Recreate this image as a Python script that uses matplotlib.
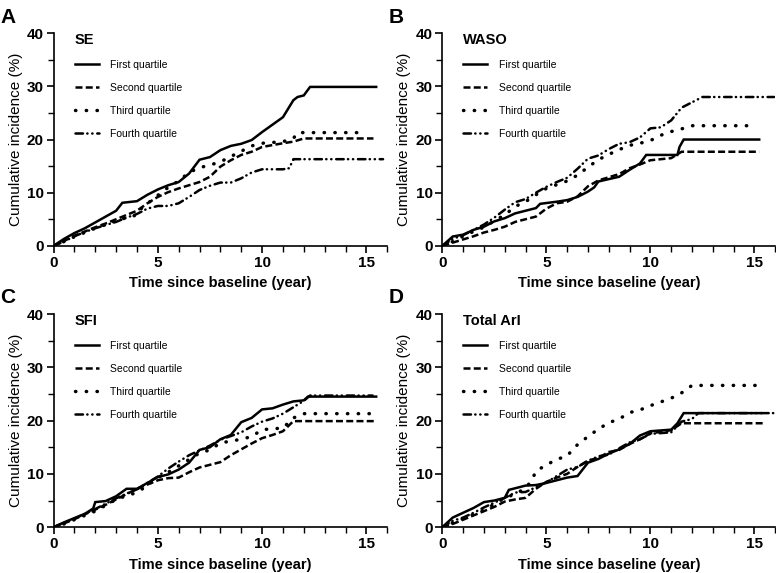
import numpy as np
import matplotlib
matplotlib.use('Agg')
import matplotlib.pyplot as plt
from matplotlib.ticker import MultipleLocator

plt.rcParams['font.family'] = ['Liberation Sans', 'DejaVu Sans']

labels = ['First quartile', 'Second quartile', 'Third quartile', 'Fourth quartile']

# (time in years, cumulative incidence %)
se_q1 = [(0, 0), (0.5, 1.3), (1, 2.4), (1.5, 3.3), (2, 4.4), (2.5, 5.5), (3, 6.6), (3.3, 8.1), (4, 8.4),
         (4.5, 9.6), (5, 10.6), (5.5, 11.4), (6, 12.0), (6.5, 13.6), (7, 16.2), (7.5, 16.7), (8, 18.0),
         (8.5, 18.8), (9, 19.2), (9.5, 19.9), (10, 21.4), (10.5, 22.8), (11, 24.2), (11.5, 27.4),
         (11.7, 28.0), (12, 28.3), (12.3, 29.9), (15.47, 29.9)]
se_q2 = [(0, 0), (0.5, 0.9), (1, 1.9), (1.5, 2.7), (2, 3.5), (2.5, 4.2), (3, 5.0), (3.5, 5.8), (4, 6.6),
         (4.5, 8.0), (5, 9.2), (5.5, 10.1), (6, 10.8), (6.5, 11.4), (7, 12.0), (7.5, 13.0), (8, 14.9),
         (8.5, 16.1), (9, 17.1), (9.5, 17.7), (10, 18.6), (11, 19.3), (11.5, 19.6), (12, 20.2),
         (15.34, 20.2)]
se_q3 = [(0, 0), (0.5, 0.8), (1, 1.7), (1.5, 2.5), (2, 3.3), (2.5, 4.0), (3, 4.7), (3.5, 5.3), (4, 5.8),
         (4.2, 7.0), (5, 9.5), (5.5, 11.0), (6, 12.2), (6.5, 13.8), (7, 14.7), (7.5, 15.2), (8, 15.8),
         (8.5, 16.8), (9, 17.8), (9.5, 18.8), (10, 19.3), (11, 19.6), (11.5, 20.2), (11.7, 21.3),
         (14.75, 21.3)]
se_q4 = [(0, 0), (0.5, 0.8), (1, 1.8), (1.5, 2.6), (2, 3.3), (2.5, 3.9), (3, 4.5), (3.5, 5.3), (4, 6.0),
         (4.5, 7.0), (5, 7.5), (5.5, 7.5), (6, 8.0), (6.5, 9.2), (7, 10.5), (7.5, 11.3), (8, 11.9),
         (8.5, 11.9), (9, 12.7), (9.5, 13.8), (10, 14.4), (11, 14.4), (11.3, 14.6), (11.5, 16.3),
         (15.8, 16.3)]

waso_q1 = [(0, 0), (0.5, 1.75), (1, 2.1), (1.5, 3.0), (2, 3.6), (2.5, 4.6), (3, 5.2), (3.5, 6.1), (4, 6.6),
           (4.5, 7.1), (4.7, 7.9), (5.5, 8.3), (6, 8.6), (6.5, 9.2), (7, 10.2), (7.3, 11.0), (7.5, 12.1),
           (8.5, 13.0), (9, 14.3), (9.5, 15.5), (9.8, 17.1), (11.3, 17.1), (11.4, 18.6), (11.6, 20.0),
           (15.23, 20.0)]
waso_q2 = [(0, 0), (0.5, 0.6), (1, 1.2), (1.5, 1.8), (2, 2.5), (2.5, 3.0), (3, 3.6), (3.5, 4.5), (4, 5.0),
           (4.5, 5.5), (5, 7.0), (5.5, 8.0), (6, 8.3), (6.5, 9.3), (7, 11.2), (7.5, 12.3), (8, 12.9),
           (8.5, 13.5), (9, 14.6), (9.5, 15.3), (10, 16.1), (11, 16.5), (11.5, 17.7), (15.23, 17.7)]
waso_q3 = [(0, 0), (0.5, 0.8), (1, 1.8), (1.5, 2.7), (2, 3.5), (2.5, 4.7), (3, 5.8), (3.5, 7.4), (4, 8.3),
           (4.5, 9.6), (5, 10.8), (5.5, 11.5), (6, 12.2), (6.5, 13.3), (7, 14.8), (7.5, 16.2), (8, 17.2),
           (8.5, 18.1), (9, 18.9), (9.5, 19.3), (10, 19.8), (10.5, 20.8), (11, 21.5), (11.5, 22.0),
           (12, 22.6), (15.0, 22.6)]
waso_q4 = [(0, 0), (0.5, 1.3), (1, 2.0), (1.5, 3.0), (2, 4.0), (2.5, 5.3), (3, 6.8), (3.5, 8.2), (4, 8.8),
           (4.5, 10.0), (5, 11.1), (5.5, 12.0), (6, 12.8), (6.5, 14.5), (7, 16.4), (7.5, 17.0), (8, 18.2),
           (8.5, 19.2), (9, 19.5), (9.5, 20.4), (10, 22.1), (10.5, 22.3), (11, 23.6), (11.5, 26.0),
           (12, 27.0), (12.5, 28.0), (15.95, 28.0)]

sfi_q1 = [(0, 0), (0.5, 0.9), (1, 1.7), (1.5, 2.5), (1.9, 3.5), (2, 4.7), (2.5, 4.9), (3, 5.8), (3.5, 7.2),
          (4, 7.2), (4.5, 8.3), (5, 9.4), (5.5, 9.9), (6, 10.8), (6.5, 12.1), (7, 14.5), (7.5, 15.0),
          (8, 16.5), (8.5, 17.3), (9, 19.7), (9.5, 20.5), (10, 22.1), (10.5, 22.3), (11, 23.0),
          (11.5, 23.6), (12, 23.8), (12.2, 24.5), (15.47, 24.5)]
sfi_q2 = [(0, 0), (0.5, 0.7), (1, 1.5), (1.5, 2.4), (2, 3.3), (2.5, 4.2), (3, 5.2), (3.5, 6.2), (4, 7.2),
          (4.5, 8.0), (5, 8.8), (5.5, 9.2), (6, 9.3), (6.5, 10.3), (7, 11.2), (7.5, 11.7), (8, 12.2),
          (8.5, 13.5), (9, 14.6), (9.5, 15.7), (10, 16.7), (10.5, 17.3), (11, 18.0), (11.5, 19.9),
          (15.47, 19.9)]
sfi_q3 = [(0, 0), (0.5, 0.6), (1, 1.4), (1.5, 2.2), (2, 3.0), (2.5, 4.1), (3, 5.2), (3.5, 5.9), (4, 6.5),
          (4.3, 7.3), (5, 9.3), (5.5, 10.3), (6, 11.5), (6.5, 12.7), (7, 13.9), (7.5, 14.5), (8, 15.8),
          (9, 16.5), (9.5, 17.0), (10, 18.3), (11, 18.6), (11.5, 20.5), (12, 21.3), (15.15, 21.3)]
sfi_q4 = [(0, 0), (0.5, 0.8), (1, 1.6), (1.5, 2.5), (2, 3.4), (2.5, 4.4), (3, 5.4), (3.5, 6.3), (4, 7.1),
          (4.5, 8.3), (5, 9.5), (5.5, 11.0), (6, 12.3), (6.5, 13.5), (7, 14.4), (7.5, 15.3), (8, 16.4),
          (8.5, 17.1), (9, 17.8), (9.5, 18.9), (10, 19.8), (10.5, 20.4), (11, 21.3), (11.5, 22.5),
          (12, 23.7), (12.3, 24.7), (15.3, 24.7)]

ari_q1 = [(0, 0), (0.5, 1.8), (1, 2.7), (1.5, 3.6), (2, 4.7), (2.5, 5.0), (3, 5.5), (3.2, 7.0), (4, 7.8),
          (4.5, 7.9), (5, 8.3), (5.5, 8.8), (6, 9.3), (6.5, 9.6), (7, 12.1), (7.5, 12.8), (8, 13.8),
          (8.5, 14.6), (9, 15.6), (9.5, 17.2), (10, 18.0), (11, 18.3), (11.3, 19.5), (11.6, 21.4),
          (15.3, 21.4)]
ari_q2 = [(0, 0), (0.5, 0.6), (1, 1.4), (1.5, 2.2), (2, 3.0), (2.5, 3.8), (3, 4.8), (3.5, 5.2), (4, 5.5),
          (4.5, 7.2), (5, 8.5), (5.5, 9.3), (6, 10.0), (6.5, 11.3), (7, 12.5), (7.5, 13.0), (8, 14.1),
          (8.5, 14.5), (9, 15.6), (9.5, 16.5), (10, 17.6), (11, 18.2), (11.5, 19.5), (15.5, 19.5)]
ari_q3 = [(0, 0), (0.5, 0.8), (1, 1.6), (1.5, 2.4), (2, 3.2), (2.5, 4.3), (3, 5.5), (3.5, 6.2), (4, 7.3),
          (4.3, 8.8), (4.5, 10.5), (5, 11.7), (5.5, 12.7), (6, 13.4), (6.5, 15.5), (7, 17.0), (7.5, 18.4),
          (8, 19.6), (8.5, 20.3), (9, 21.5), (9.5, 22.0), (10, 22.8), (10.5, 23.5), (11, 24.2),
          (11.5, 25.2), (12, 26.6), (15.2, 26.6)]
ari_q4 = [(0, 0), (0.5, 1.2), (1, 1.8), (1.5, 2.7), (2, 3.7), (2.5, 4.6), (3, 5.5), (3.5, 6.5), (4, 6.6),
          (4.5, 7.5), (5, 8.4), (5.5, 9.6), (6, 10.8), (6.5, 11.3), (7, 12.4), (7.5, 13.3), (8, 13.6),
          (8.5, 14.8), (9, 15.9), (9.5, 16.5), (10, 17.5), (11, 17.8), (11.5, 19.8), (12, 20.3),
          (12.3, 21.4), (15.95, 21.4)]

panels = [('A', 'SE', [se_q1, se_q2, se_q3, se_q4]),
          ('B', 'WASO', [waso_q1, waso_q2, waso_q3, waso_q4]),
          ('C', 'SFI', [sfi_q1, sfi_q2, sfi_q3, sfi_q4]),
          ('D', 'Total ArI', [ari_q1, ari_q2, ari_q3, ari_q4])]

styles = [dict(linestyle='-', lw=1.8),
          dict(linestyle=(0, (2.8, 1.3)), lw=1.8),
          dict(linestyle=(0, (0.1, 3.0)), lw=2.5, dash_capstyle='round'),
          dict(linestyle=(0, (3.0, 1.7, 0.1, 1.9, 0.1, 1.9)), lw=1.8, dash_capstyle='round')]

fig = plt.figure(figsize=(7.76, 5.73), dpi=100)
boxes = [(0.069, 0.571, 0.430, 0.371), (0.570, 0.571, 0.429, 0.371),
         (0.069, 0.080, 0.430, 0.372), (0.570, 0.080, 0.429, 0.372)]

for (letter, title, curves), box in zip(panels, boxes):
    ax = fig.add_axes(box)
    for c, lab, st in zip(curves, labels, styles):
        t = [p[0] for p in c]
        v = [p[1] for p in c]
        ax.plot(t, v, color='black', label=lab, solid_joinstyle='miter', **st)
    ax.set_xlim(0, 16)
    ax.set_ylim(0, 40)
    ax.xaxis.set_major_locator(MultipleLocator(5))
    ax.xaxis.set_minor_locator(MultipleLocator(1))
    ax.yaxis.set_major_locator(MultipleLocator(10))
    ax.yaxis.set_minor_locator(MultipleLocator(5))
    for s in ['top', 'right']:
        ax.spines[s].set_visible(False)
    for s in ['left', 'bottom']:
        ax.spines[s].set_linewidth(1.2)
    ax.tick_params(which='major', direction='out', length=5, width=1.2, labelsize=11, pad=2)
    ax.tick_params(which='minor', direction='out', length=4, width=1.0)
    for lbl in ax.get_xticklabels() + ax.get_yticklabels():
        lbl.set_fontweight('bold')
    ax.set_xlabel('Time since baseline (year)', fontsize=10.5, fontweight='bold', labelpad=5)
    ax.set_ylabel('Cumulative incidence (%)', fontsize=11, labelpad=3)
    leg = ax.legend(loc='upper left', bbox_to_anchor=(0.035, 1.045), frameon=False, title=title,
                    fontsize=7.5, title_fontproperties={'weight': 'bold', 'size': 10.5},
                    handlelength=2.3, handletextpad=1.1, labelspacing=1.25, alignment='left')
    ax.text(-0.16, 1.12, letter, transform=ax.transAxes, fontsize=15, fontweight='bold',
            va='top', ha='left')

fig.savefig('out.png', dpi=100)
